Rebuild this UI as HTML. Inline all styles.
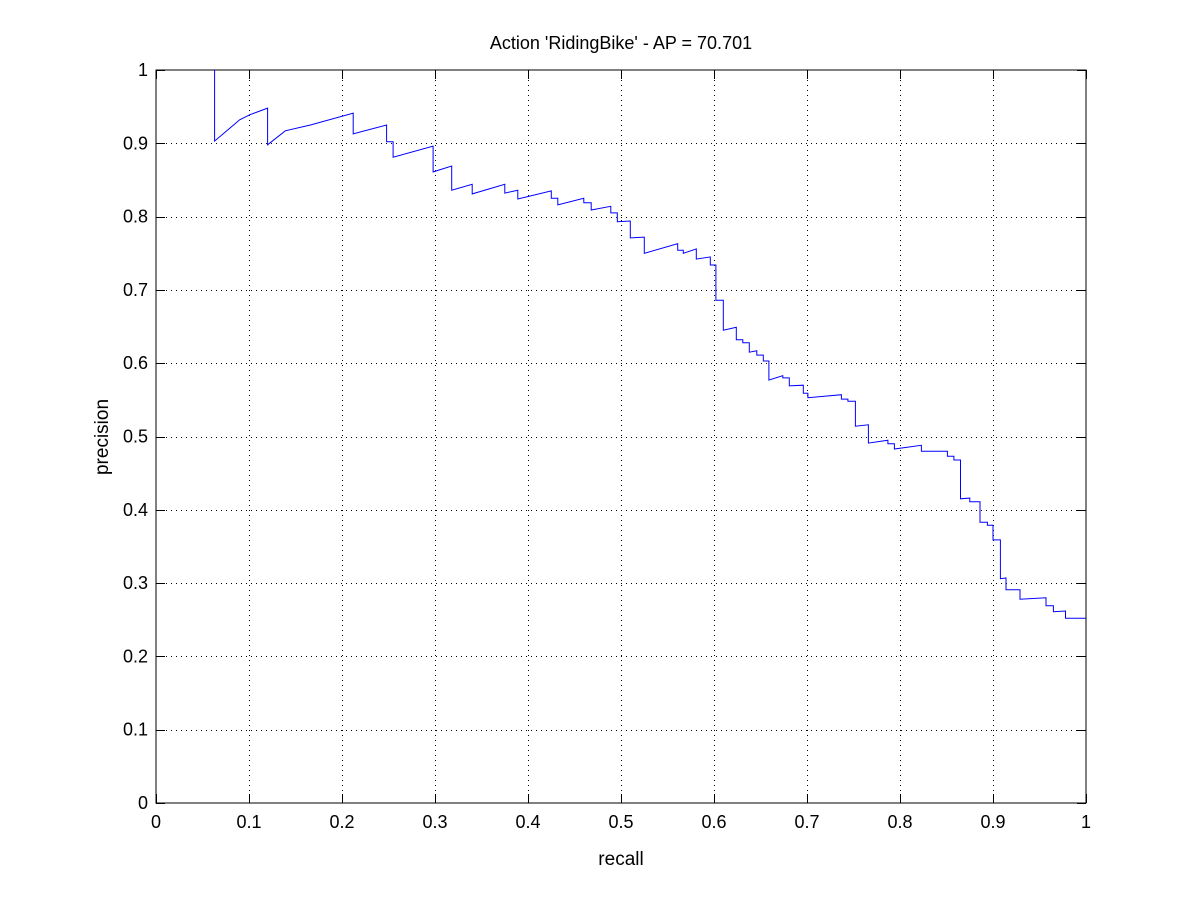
<!DOCTYPE html>
<html><head><meta charset="utf-8"><style>
html,body{margin:0;padding:0;background:#fff;}
svg text{font-family:"Liberation Sans",sans-serif;fill:#000;}
</style></head><body>
<svg id="chart" width="1200" height="901" xmlns="http://www.w3.org/2000/svg">
<rect width="1200" height="901" fill="#fff"/>
<text x="621" y="49" font-size="18" text-anchor="middle">Action 'RidingBike' - AP = 70.701</text>
<text x="621" y="865" font-size="19" text-anchor="middle">recall</text>
<text transform="translate(108,437) rotate(-90)" font-size="19" text-anchor="middle">precision</text>
<g id="grid"></g>
<g id="ticks"></g>
<rect x="156" y="70" width="930" height="733" fill="none" stroke="#000" stroke-width="1"/>
<path id="curve" fill="none" stroke="#0000ff" stroke-width="1"/>
</svg>
<script>
const recall=[.063,.063,.090,.101,.120,.120,.139,.166,.212,.212,.248,.248,.255,.255,.298,.298,.318,.318,.340,.340,.375,.375,.389,.389,.425,.425,.432,.432,.460,.460,.468,.468,.489,.489,.496,.496,.510,.510,.525,.525,.561,.561,.567,.567,.581,.581,.596,.596,.602,.602,.610,.610,.624,.624,.631,.631,.638,.638,.646,.646,.653,.653,.659,.659,.674,.674,.681,.681,.696,.696,.701,.701,.737,.737,.744,.744,.752,.752,.766,.766,.787,.787,.794,.794,.823,.823,.851,.851,.858,.858,.865,.865,.875,.875,.886,.886,.894,.894,.900,.900,.908,.908,.914,.914,.929,.929,.957,.957,.965,.965,.978,.978,1.0];
const precision=[1.0,.903,.932,.939,.948,.898,.917,.925,.941,.913,.925,.902,.902,.881,.896,.861,.869,.836,.844,.831,.844,.832,.836,.824,.835,.825,.825,.816,.825,.819,.819,.809,.814,.805,.805,.793,.794,.771,.772,.750,.763,.754,.754,.750,.756,.742,.745,.734,.734,.686,.686,.645,.649,.632,.632,.628,.628,.615,.617,.611,.611,.603,.603,.577,.583,.580,.580,.569,.570,.559,.559,.553,.557,.551,.551,.548,.548,.514,.516,.491,.495,.490,.490,.483,.488,.480,.480,.473,.473,.468,.468,.415,.416,.411,.411,.383,.383,.379,.379,.359,.359,.306,.307,.291,.291,.278,.280,.269,.269,.261,.262,.252,.252];
const xTicks=[0,0.1,0.2,0.3,0.4,0.5,0.6,0.7,0.8,0.9,1];
const yTicks=[0,0.1,0.2,0.3,0.4,0.5,0.6,0.7,0.8,0.9,1];
const X0=156,X1=1086,Y0=803,Y1=70;
const sx=v=>X0+(X1-X0)*v, sy=v=>Y0-(Y0-Y1)*v;
const NS='http://www.w3.org/2000/svg';
const grid=document.getElementById('grid'), ticks=document.getElementById('ticks');
function mk(tag,attrs,parent){const e=document.createElementNS(NS,tag);for(const k in attrs)e.setAttribute(k,attrs[k]);parent.appendChild(e);return e;}
xTicks.forEach(v=>{
  const x=Math.round(sx(v))+0.5;
  if(v>0&&v<1){const g=mk('line',{x1:x,y1:Y1,x2:x,y2:Y0,stroke:'#000','stroke-dasharray':'1,4'},grid);
  
  }
  const t1=mk('line',{x1:x,y1:Y0,x2:x,y2:Y0-9,stroke:'#000'},ticks);
  
  
  const t2=mk('line',{x1:x,y1:Y1,x2:x,y2:Y1+9,stroke:'#000'},ticks);
  
  
  const l=mk('text',{x:sx(v),y:Y0+25,'font-size':'18','text-anchor':'middle'},ticks);
  l.textContent=String(v);
  
  
});
yTicks.forEach(v=>{
  const y=Math.round(sy(v))+0.5;
  if(v>0&&v<1){const g=mk('line',{x1:X0,y1:y,x2:X1,y2:y,stroke:'#000','stroke-dasharray':'1,4'},grid);
  
  }
  const t1=mk('line',{x1:X0,y1:y,x2:X0+9,y2:y,stroke:'#000'},ticks);
  
  
  const t2=mk('line',{x1:X1,y1:y,x2:X1-9,y2:y,stroke:'#000'},ticks);
  
  
  const l=mk('text',{x:X0-8,y:sy(v)+6,'font-size':'18','text-anchor':'end'},ticks);
  l.textContent=String(v);
  
  
});
let d='';
recall.forEach((r,i)=>{d+=(i?'L':'M')+sx(r).toFixed(1)+','+sy(precision[i]).toFixed(1);});
document.getElementById('curve').setAttribute('d',d);
</script>
</body></html>
